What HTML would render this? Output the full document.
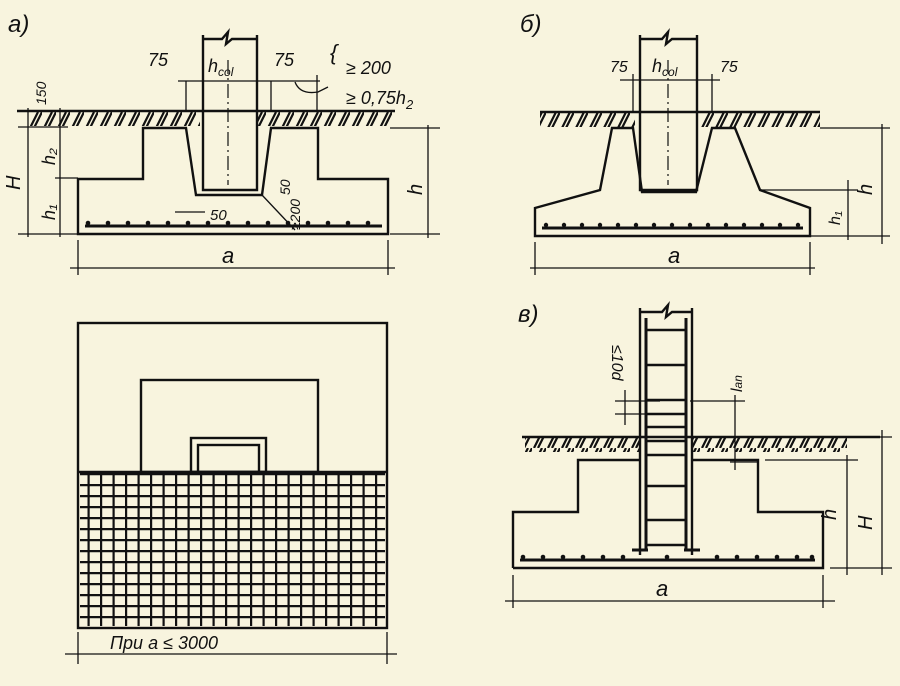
<!DOCTYPE html>
<html><head><meta charset="utf-8"><style>
html,body{margin:0;padding:0;background:#f8f4de;}
svg{display:block;}
text{font-family:"Liberation Sans",sans-serif;font-style:italic;fill:#111;}
</style></head><body>
<svg width="900" height="686" viewBox="0 0 900 686" xmlns="http://www.w3.org/2000/svg">
<defs>
<pattern id="h" width="14" height="16" patternUnits="userSpaceOnUse">
<path d="M2 16 L10 0 M6 16 L14 0" stroke="#111" stroke-width="2.2"/>
</pattern>
<pattern id="g" width="12.5" height="11" patternUnits="userSpaceOnUse">
<path d="M0 1 H12.5 M1 0 V11" stroke="#111" stroke-width="2.4"/>
</pattern>
</defs>
<g stroke="#111" fill="none" stroke-width="2.4">
<!-- PANEL A -->
<text x="8" y="32" font-size="24" stroke="none">a)</text>
<line x1="17" y1="111" x2="395" y2="111"/>
<rect x="30" y="112" width="170" height="14" fill="url(#h)" stroke="none"/>
<rect x="258" y="112" width="135" height="14" fill="url(#h)" stroke="none"/>
<path d="M78 234 V179 H143 V128 H186 L196 195 H262 L271 128 H318 V179 H388 V234 Z"/>
<path d="M203 35 V190 H257 V35 M203 39 H222 L228 32 L226 44 L232 39 H257"/>
<line x1="228" y1="60" x2="228" y2="185" stroke-width="1.2" stroke-dasharray="14 4 2 4"/>
<line x1="85" y1="226" x2="382" y2="226" stroke-width="3"/>
<g fill="#111" stroke="none">
<circle cx="88" cy="223" r="2.3"/><circle cx="108" cy="223" r="2.3"/><circle cx="128" cy="223" r="2.3"/><circle cx="148" cy="223" r="2.3"/><circle cx="168" cy="223" r="2.3"/><circle cx="188" cy="223" r="2.3"/><circle cx="208" cy="223" r="2.3"/><circle cx="228" cy="223" r="2.3"/><circle cx="248" cy="223" r="2.3"/><circle cx="268" cy="223" r="2.3"/><circle cx="288" cy="223" r="2.3"/><circle cx="308" cy="223" r="2.3"/><circle cx="328" cy="223" r="2.3"/><circle cx="348" cy="223" r="2.3"/><circle cx="368" cy="223" r="2.3"/>
</g>
<g stroke-width="1.3">
<line x1="178" y1="81" x2="320" y2="81"/>
<line x1="186" y1="81" x2="186" y2="112"/><line x1="271" y1="81" x2="271" y2="112"/><line x1="317" y1="75" x2="317" y2="112"/>
<line x1="60" y1="108" x2="60" y2="237"/><line x1="28" y1="108" x2="28" y2="237"/>
<line x1="18" y1="127" x2="68" y2="127"/><line x1="18" y1="234" x2="78" y2="234"/><line x1="55" y1="178" x2="78" y2="178"/>
<line x1="428" y1="125" x2="428" y2="238"/><line x1="390" y1="128" x2="440" y2="128"/><line x1="390" y1="234" x2="440" y2="234"/>
<line x1="70" y1="268" x2="395" y2="268"/><line x1="78" y1="240" x2="78" y2="275"/><line x1="388" y1="240" x2="388" y2="275"/>
<path d="M295 82 Q300 95 318 92 L328 87"/>
<line x1="262" y1="195" x2="295" y2="230"/><line x1="175" y1="212" x2="205" y2="212"/>
</g>
<text x="148" y="66" font-size="18" stroke="none">75</text>
<text x="208" y="72" font-size="18" stroke="none">h<tspan font-size="12" dy="4">col</tspan></text>
<text x="274" y="66" font-size="18" stroke="none">75</text>
<text x="330" y="60" font-size="22" stroke="none">{</text>
<text x="346" y="74" font-size="18" stroke="none">≥ 200</text>
<text x="346" y="104" font-size="18" stroke="none">≥ 0,75h<tspan font-size="13" dy="5">2</tspan></text>
<text x="46" y="105" font-size="14" stroke="none" transform="rotate(-90 46 105)">150</text>
<text x="20" y="190" font-size="20" stroke="none" transform="rotate(-90 20 190)">H</text>
<text x="55" y="165" font-size="18" stroke="none" transform="rotate(-90 55 165)">h₂</text>
<text x="55" y="220" font-size="18" stroke="none" transform="rotate(-90 55 220)">h₁</text>
<text x="422" y="195" font-size="20" stroke="none" transform="rotate(-90 422 195)">h</text>
<text x="210" y="220" font-size="15" stroke="none">50</text>
<text x="290" y="195" font-size="14" stroke="none" transform="rotate(-90 290 195)">50</text>
<text x="300" y="230" font-size="14" stroke="none" transform="rotate(-90 300 230)">≥200</text>
<text x="222" y="263" font-size="22" stroke="none">a</text>

<!-- PLAN -->
<rect x="78" y="323" width="309" height="305"/>
<rect x="141" y="380" width="177" height="92"/>
<rect x="191" y="438" width="75" height="34"/>
<rect x="198" y="445" width="61" height="27"/>
<rect x="80" y="472" width="305" height="154" fill="url(#g)" stroke="none"/>
<line x1="78" y1="472" x2="387" y2="472"/>
<g stroke-width="1.3">
<line x1="65" y1="654" x2="397" y2="654"/><line x1="78" y1="632" x2="78" y2="664"/><line x1="387" y1="632" x2="387" y2="664"/>
</g>
<text x="110" y="649" font-size="18" stroke="none">При  a ≤ 3000</text>

<!-- PANEL B -->
<text x="520" y="32" font-size="24" stroke="none">б)</text>
<line x1="540" y1="112" x2="820" y2="112"/>
<rect x="540" y="113" width="95" height="14" fill="url(#h)" stroke="none"/>
<rect x="700" y="113" width="120" height="14" fill="url(#h)" stroke="none"/>
<path d="M535 236 V208 L600 190 L612 128 H633 L642 192 H696 L712 128 H735 L760 190 L810 208 V236 Z"/>
<path d="M640 35 V190 H697 V35 M640 39 H662 L668 32 L666 44 L672 39 H697"/>
<line x1="668" y1="60" x2="668" y2="185" stroke-width="1.2" stroke-dasharray="14 4 2 4"/>
<line x1="542" y1="228" x2="803" y2="228" stroke-width="3"/>
<g fill="#111" stroke="none">
<circle cx="546" cy="225" r="2.2"/><circle cx="564" cy="225" r="2.2"/><circle cx="582" cy="225" r="2.2"/><circle cx="600" cy="225" r="2.2"/><circle cx="618" cy="225" r="2.2"/><circle cx="636" cy="225" r="2.2"/><circle cx="654" cy="225" r="2.2"/><circle cx="672" cy="225" r="2.2"/><circle cx="690" cy="225" r="2.2"/><circle cx="708" cy="225" r="2.2"/><circle cx="726" cy="225" r="2.2"/><circle cx="744" cy="225" r="2.2"/><circle cx="762" cy="225" r="2.2"/><circle cx="780" cy="225" r="2.2"/><circle cx="798" cy="225" r="2.2"/>
</g>
<g stroke-width="1.3">
<line x1="620" y1="80" x2="720" y2="80"/><line x1="633" y1="74" x2="633" y2="112"/><line x1="712" y1="74" x2="712" y2="112"/>
<line x1="848" y1="180" x2="848" y2="240"/><line x1="882" y1="124" x2="882" y2="244"/>
<line x1="760" y1="190" x2="858" y2="190"/><line x1="810" y1="236" x2="890" y2="236"/><line x1="820" y1="128" x2="890" y2="128"/>
<line x1="530" y1="268" x2="815" y2="268"/><line x1="535" y1="242" x2="535" y2="275"/><line x1="810" y1="242" x2="810" y2="275"/>
</g>
<text x="610" y="72" font-size="16" stroke="none">75</text>
<text x="652" y="72" font-size="18" stroke="none">h<tspan font-size="12" dy="4">col</tspan></text>
<text x="720" y="72" font-size="16" stroke="none">75</text>
<text x="872" y="195" font-size="20" stroke="none" transform="rotate(-90 872 195)">h</text>
<text x="840" y="225" font-size="16" stroke="none" transform="rotate(-90 840 225)">h₁</text>
<text x="668" y="263" font-size="22" stroke="none">a</text>

<!-- PANEL C -->
<text x="518" y="322" font-size="24" stroke="none">в)</text>
<line x1="522" y1="437" x2="880" y2="437"/>
<rect x="525" y="438" width="115" height="14" fill="url(#h)" stroke="none"/>
<rect x="692" y="438" width="155" height="14" fill="url(#h)" stroke="none"/>
<path d="M513 568 V512 H578 V460 H640 M692 460 H758 V512 H823 V568 H513"/>
<path d="M640 308 V555 M692 308 V555 M640 312 H662 L668 305 L666 317 L672 312 H692"/>
<line x1="646" y1="318" x2="646" y2="550" stroke-width="3"/><line x1="686" y1="318" x2="686" y2="550" stroke-width="3"/>
<g stroke-width="2.4">
<line x1="646" y1="330" x2="686" y2="330"/><line x1="646" y1="365" x2="686" y2="365"/><line x1="646" y1="400" x2="686" y2="400"/><line x1="646" y1="414" x2="686" y2="414"/><line x1="646" y1="427" x2="686" y2="427"/><line x1="646" y1="441" x2="686" y2="441"/><line x1="646" y1="455" x2="686" y2="455"/><line x1="646" y1="486" x2="686" y2="486"/><line x1="646" y1="520" x2="686" y2="520"/><line x1="646" y1="545" x2="686" y2="545"/>
<line x1="632" y1="550" x2="648" y2="550" stroke-width="3"/><line x1="684" y1="550" x2="700" y2="550" stroke-width="3"/>
</g>
<line x1="520" y1="560" x2="815" y2="560" stroke-width="3"/>
<g fill="#111" stroke="none">
<circle cx="523" cy="557" r="2.3"/><circle cx="543" cy="557" r="2.3"/><circle cx="563" cy="557" r="2.3"/><circle cx="583" cy="557" r="2.3"/><circle cx="603" cy="557" r="2.3"/><circle cx="623" cy="557" r="2.3"/><circle cx="667" cy="557" r="2.3"/><circle cx="717" cy="557" r="2.3"/><circle cx="737" cy="557" r="2.3"/><circle cx="757" cy="557" r="2.3"/><circle cx="777" cy="557" r="2.3"/><circle cx="797" cy="557" r="2.3"/><circle cx="812" cy="557" r="2.3"/>
</g>
<g stroke-width="1.3">
<line x1="615" y1="401" x2="660" y2="401"/><line x1="615" y1="414" x2="660" y2="414"/><line x1="625" y1="390" x2="625" y2="425"/>
<line x1="690" y1="401" x2="745" y2="401"/><line x1="735" y1="395" x2="735" y2="470"/><line x1="730" y1="462" x2="758" y2="462"/>
<line x1="847" y1="455" x2="847" y2="575"/><line x1="882" y1="430" x2="882" y2="575"/>
<line x1="765" y1="460" x2="858" y2="460"/><line x1="830" y1="568" x2="892" y2="568"/><line x1="850" y1="437" x2="892" y2="437"/>
<line x1="505" y1="601" x2="835" y2="601"/><line x1="513" y1="575" x2="513" y2="608"/><line x1="823" y1="575" x2="823" y2="608"/>
</g>
<text x="612" y="345" font-size="16" stroke="none" transform="rotate(90 612 345)">≤10d</text>
<text x="742" y="392" font-size="16" stroke="none" transform="rotate(-90 742 392)">l<tspan font-size="12">an</tspan></text>
<text x="836" y="520" font-size="20" stroke="none" transform="rotate(-90 836 520)">h</text>
<text x="872" y="530" font-size="20" stroke="none" transform="rotate(-90 872 530)">H</text>
<text x="656" y="596" font-size="22" stroke="none">a</text>
</g>
</svg>
</body></html>
